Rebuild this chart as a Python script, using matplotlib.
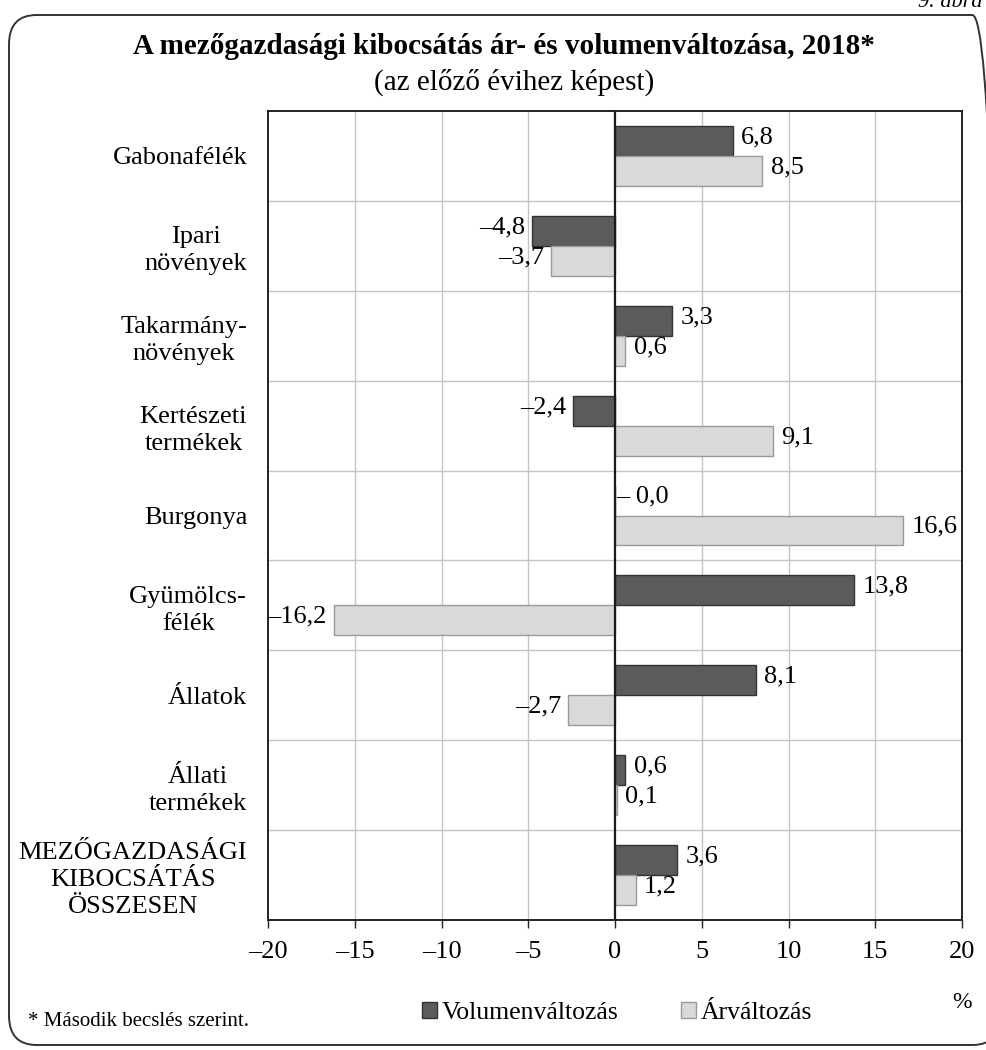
import matplotlib
matplotlib.use("Agg")
import matplotlib.pyplot as plt
from matplotlib.patches import FancyBboxPatch, Patch
import numpy as np

plt.rcParams['font.family'] = ['Liberation Serif', 'DejaVu Serif']

categories = ["Gabonafélék", "Ipari\nnövények", "Takarmány-\nnövények", "Kertészeti\ntermékek",
              "Burgonya", "Gyümölcs-\nfélék", "Állatok", "Állati\ntermékek",
              "MEZŐGAZDASÁGI\nKIBOCSÁTÁS\nÖSSZESEN"]
volume = [6.8, -4.8, 3.3, -2.4, -0.0, 13.8, 8.1, 0.6, 3.6]
price = [8.5, -3.7, 0.6, 9.1, 16.6, -16.2, -2.7, 0.1, 1.2]
xticks = [-20, -15, -10, -5, 0, 5, 10, 15, 20]
series_names = ["Volumenváltozás", "Árváltozás"]

W, H = 987, 1050
fig = plt.figure(figsize=(W / 100, H / 100), dpi=100)
ax = fig.add_axes([268 / W, 1 - 920 / H, (962 - 268) / W, (920 - 111) / H])

dark, dark_edge = "#5b5b5d", "#333333"
light, light_edge = "#d9d9db", "#9a9a9a"
FS = 19
y = np.arange(len(categories))
bh = 1 / 3
ax.barh(y - bh / 2, volume, height=bh, color=dark, edgecolor=dark_edge, linewidth=1, zorder=3)
ax.barh(y + bh / 2, price, height=bh, color=light, edgecolor=light_edge, linewidth=1, zorder=3)

ax.set_xlim(-20, 20)
ax.set_ylim(len(categories) - 0.5, -0.5)
ax.set_xticks(xticks)
ax.set_xticklabels([("–" if t < 0 else "") + str(abs(t)) for t in xticks], fontsize=FS)
ax.tick_params(axis='x', length=6, width=1, pad=9, color="#222222")
ax.set_yticks(y)
ax.set_yticklabels(categories, fontsize=FS)
for lab in ax.get_yticklabels():
    lab.set_multialignment('center')
    lab.set_linespacing(1.3)
ax.tick_params(axis='y', length=0, pad=15)

for v in xticks[1:-1]:
    if v != 0:
        ax.axvline(v, color="#c4c4c4", lw=1, zorder=1)
for b in np.arange(0.5, len(categories) - 0.5, 1):
    ax.axhline(b, color="#c4c4c4", lw=1, zorder=1)
ax.axvline(0, color="#1a1a1a", lw=1.6, zorder=4)
for s in ax.spines.values():
    s.set_color("#222222")
    s.set_linewidth(1.4)


def fmt(v):
    neg = np.signbit(v)
    s = f"{abs(v):.1f}".replace(".", ",")
    return ("–" + s) if neg else s


for i, (vv, pv) in enumerate(zip(volume, price)):
    for val, yy in ((vv, i - bh / 2), (pv, i + bh / 2)):
        if val == 0:
            ax.annotate("– " + fmt(abs(val)), (0, yy - 0.04), xytext=(1, 0), textcoords='offset points',
                        ha='left', va='center', fontsize=FS, zorder=5)
        elif val > 0:
            ax.annotate(fmt(val), (val, yy - 0.04), xytext=(6, 0), textcoords='offset points',
                        ha='left', va='center', fontsize=FS, zorder=5)
        else:
            ax.annotate(fmt(val), (val, yy - 0.04), xytext=(-5, 0), textcoords='offset points',
                        ha='right', va='center', fontsize=FS, zorder=5)

fig.text(504 / W, 1 - 47 / H, "A mezőgazdasági kibocsátás ár- és volumenváltozása, 2018*",
         ha='center', va='center', fontsize=21, fontweight='bold')
fig.text(514 / W, 1 - 82 / H, "(az előző évihez képest)", ha='center', va='center', fontsize=21)
fig.text(918 / W, 1 - 7 / H, "9. ábra", ha='left', va='baseline', fontsize=16, style='italic')

fig.text(28 / W, 1 - 1021 / H, "* Második becslés szerint.", ha='left', va='center', fontsize=15)
fig.text(962 / W, 1 - 1003 / H, "%", ha='center', va='center', fontsize=17)

handles = [Patch(facecolor=dark, edgecolor=dark_edge), Patch(facecolor=light, edgecolor=light_edge)]
fig.legend(handles, series_names, loc='center', bbox_to_anchor=(617 / W, 1 - 1013 / H), ncol=2,
           frameon=False, fontsize=18.5, handlelength=0.6, handleheight=0.6, handletextpad=0.2,
           columnspacing=2.4)

box = FancyBboxPatch((9 / W, 1 - 1045 / H), (1000 - 9) / W, (1045 - 15) / H,
                     boxstyle="round,pad=0,rounding_size=0.028", transform=fig.transFigure,
                     facecolor='none', edgecolor="#333333", linewidth=1.4, clip_on=False)
fig.patches.append(box)

fig.savefig("out.png", dpi=100)
